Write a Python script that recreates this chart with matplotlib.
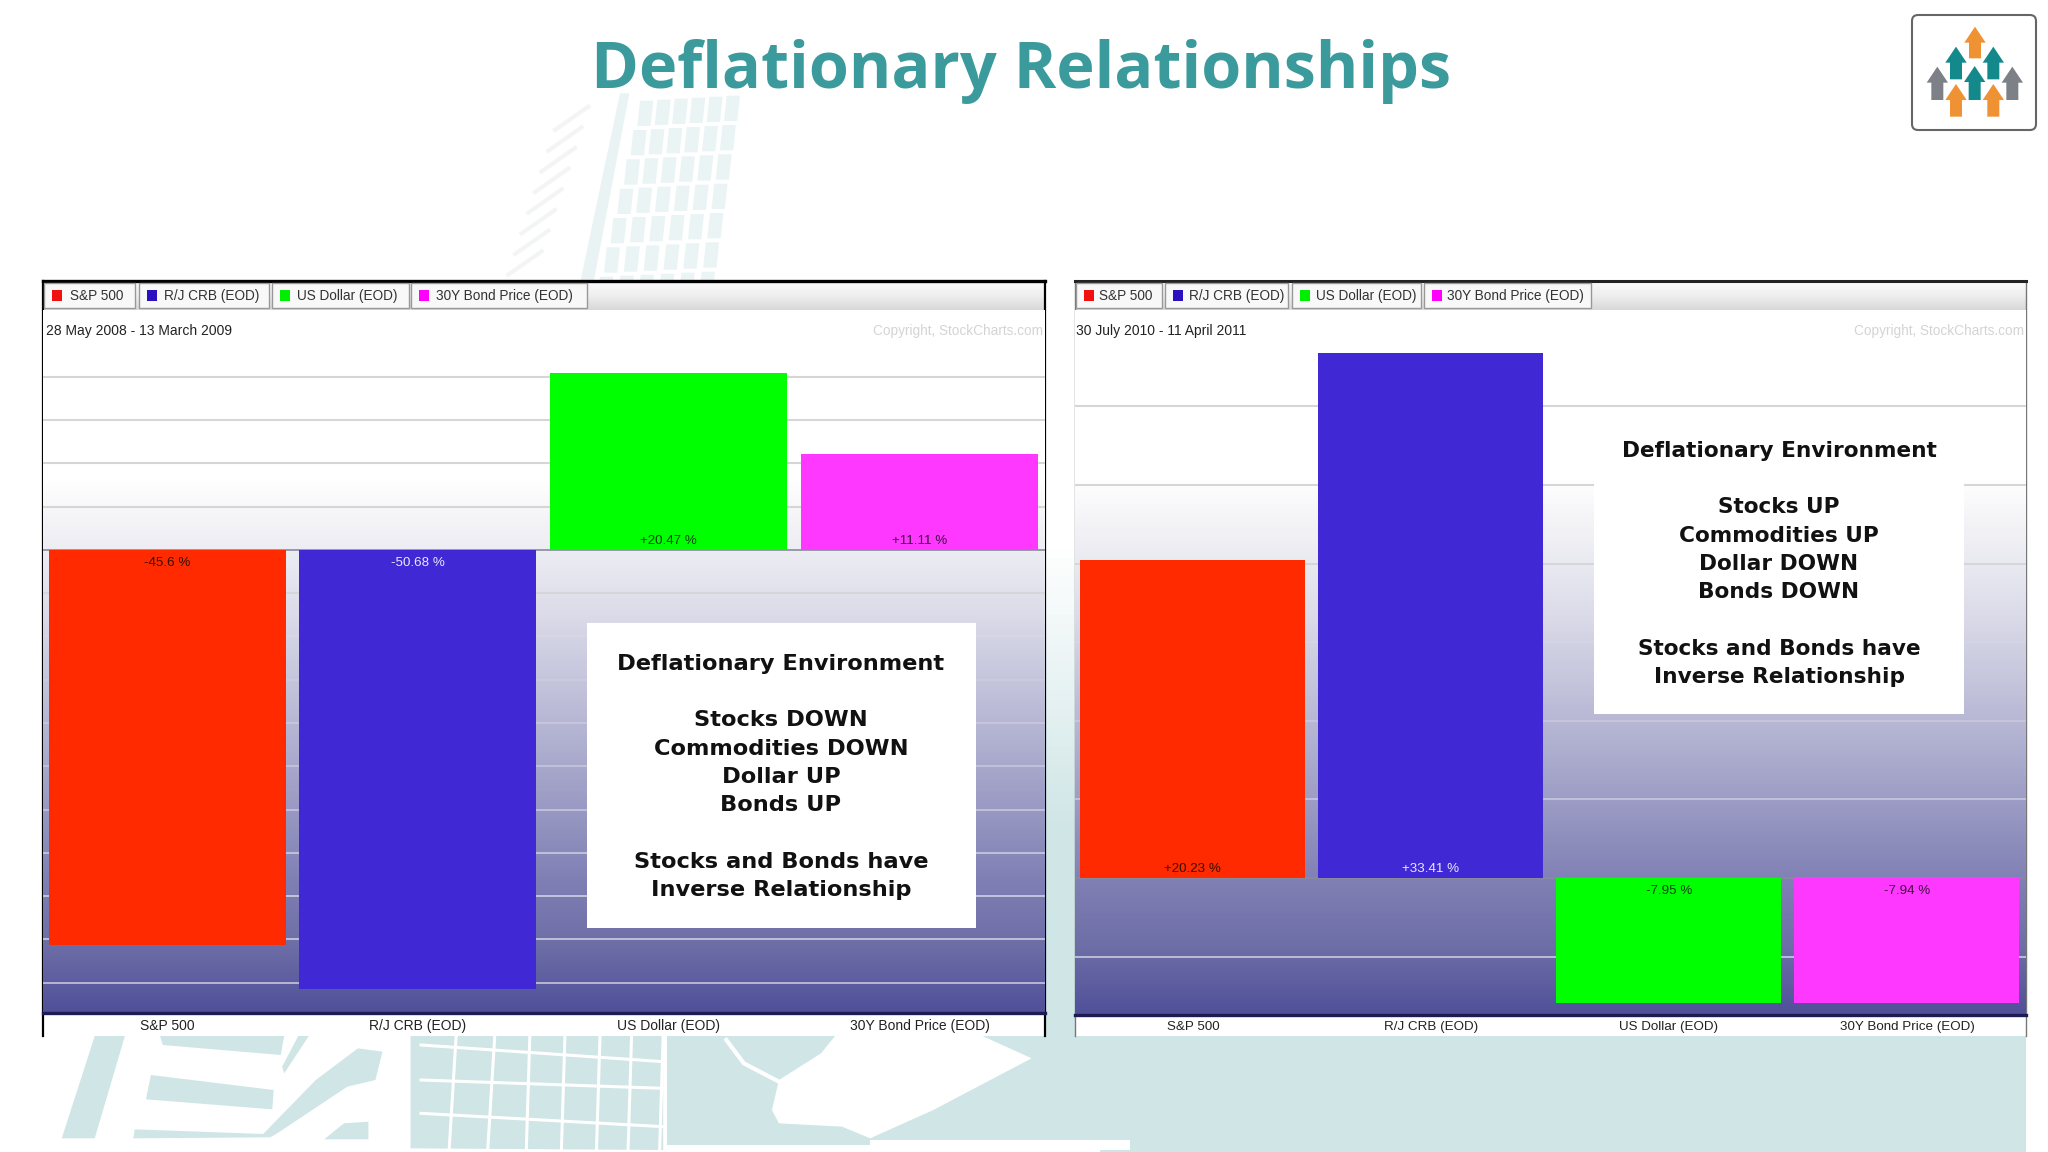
#!/usr/bin/env python3
"""Deflationary Relationships slide: two StockCharts style performance bar charts"""

import matplotlib
matplotlib.use('Agg')
import matplotlib.pyplot as plt
import numpy as np
from matplotlib.colors import LinearSegmentedColormap
from matplotlib.patches import FancyBboxPatch, Polygon, Rectangle

# data
categories = ['S&P 500', 'R/J CRB (EOD)', 'US Dollar (EOD)', '30Y Bond Price (EOD)']
values_2008 = [-45.6, -50.68, 20.47, 11.11]
labels_2008 = ['-45.6 %', '-50.68 %', '+20.47 %', '+11.11 %']
values_2010 = [20.23, 33.41, -7.95, -7.94]
labels_2010 = ['+20.23 %', '+33.41 %', '-7.95 %', '-7.94 %']
grid_2008 = [-50, -45, -40, -35, -30, -25, -20, -15, -10, -5, 5, 10, 15, 20]
grid_2010 = [-5, 5, 10, 15, 20, 25, 30]
box_2008 = ['Deflationary Environment', 'Stocks DOWN', 'Commodities DOWN', 'Dollar UP', 'Bonds UP',
            'Stocks and Bonds have', 'Inverse Relationship']
box_2010 = ['Deflationary Environment', 'Stocks UP', 'Commodities UP', 'Dollar DOWN', 'Bonds DOWN',
            'Stocks and Bonds have', 'Inverse Relationship']

bar_colors = ['#ff2a00', '#4028d4', '#00ff00', '#ff38ff']
swatch_colors = ['#f01010', '#2a10c0', '#00ee00', '#ff00ff']
label_colors = ['#301000', '#e8e8ff', '#104010', '#401040']
TEAL = '#cfe5e6'

W, H = 2048, 1152
fig = plt.figure(figsize=(W / 100, H / 100), dpi=100)

# slide layer, everything in pixels
bg = fig.add_axes([0, 0, 1, 1], zorder=0)
bg.axis('off')
fg = fig.add_axes([0, 0, 1, 1], zorder=3)
fg.axis('off')
fg.patch.set_alpha(0)

bg_cmap = LinearSegmentedColormap.from_list('bar', ['#fafafa', '#eeeeee', '#d8d8d8'])
bg.imshow(np.linspace(0, 1, 64).reshape(-1, 1), cmap=bg_cmap, extent=[43, 1045, 310, 282], aspect='auto', zorder=2)
bg.imshow(np.linspace(0, 1, 64).reshape(-1, 1), cmap=bg_cmap, extent=[1075, 2026, 310, 282], aspect='auto', zorder=2)

# bottom band watermark
zx = lambda x: x / 1.425
zy = lambda y: 1030 + y / 3
shapes = [
    [(135, 18), (178, 18), (135, 325), (88, 325)],
    [(228, 18), (405, 18), (400, 75), (232, 45)],
    [(215, 135), (390, 180), (388, 238), (208, 208)],
    [(425, 18), (440, 18), (405, 130), (402, 110)],
    [(510, 55), (545, 65), (535, 150), (495, 170), (395, 310), (385, 322), (190, 325), (192, 298), (375, 312), (450, 150)],
    [(490, 280), (525, 275), (525, 328), (462, 328)],
    [(585, 18), (945, 18), (945, 360), (585, 355)],
    [(950, 18), (1568, 18), (1568, 345), (950, 345)],
]
for s in shapes:
    bg.add_patch(Polygon([(zx(x), zy(y)) for x, y in s], fc=TEAL, ec='none', zorder=1))
bg.add_patch(Rectangle((1100, 1036), 926, 116, fc=TEAL, ec='none', zorder=1))
bg.add_patch(Polygon([(zx(x), zy(y)) for x, y in [(950, 345), (1240, 350), (1568, 352), (1568, 366), (950, 366)]],
                     fc='white', ec='none', zorder=1))
bg.add_patch(Rectangle((870, 1140), 260, 12, fc='white', ec='none', zorder=1))
bg.add_patch(Rectangle((1100, 1150), 926, 2, fc=TEAL, ec='none', zorder=1))
white_shape = [(1190, 18), (1170, 70), (1110, 150), (1100, 240), (1110, 280), (1200, 290), (1240, 325), (1330, 240),
               (1470, 85), (1400, 18)]
bg.add_patch(Polygon([(zx(x), zy(y)) for x, y in white_shape], fc='white', ec='none', zorder=1))
bg.plot([zx(1035), zx(1060), zx(1110)], [zy(30), zy(100), zy(155)], color='white', lw=3, zorder=1)
# window grid in the band
for x0, x1 in [(650, 640), (705, 695), (755, 750), (805, 800), (855, 850), (900, 895), (945, 940)]:
    bg.plot([zx(x0), zx(x1)], [zy(18), zy(360)], color='white', lw=2.2, zorder=1)
for y0, y1 in [(45, 95), (150, 175), (250, 290)]:
    bg.plot([zx(600), zx(945)], [zy(y0), zy(y1)], color='white', lw=2.2, zorder=1)

# strip between the two charts
bg.imshow(np.linspace(0, 1, 32).reshape(-1, 1), cmap=LinearSegmentedColormap.from_list('g', ['white', TEAL]),
          extent=[1045, 1075, 840, 540], aspect='auto', zorder=1)
bg.add_patch(Rectangle((1045, 840), 30, 196, fc=TEAL, ec='none', zorder=1))
for a in (bg, fg):
    a.set_xlim(0, W)
    a.set_ylim(H, 0)

# tower behind the title
wx = lambda x: 480 + x / 3
wy = lambda y: 80 + y / 3
bg.add_patch(Polygon([(wx(x), wy(y)) for x, y in [(420, 40), (448, 40), (340, 610), (300, 610)]],
                     fc='#e9f3f3', ec='none', zorder=1))
for row in range(7):
    for col in range(6):
        cx = 480 + col * 52 - row * 20 + row * col * 1.5
        cy = 100 + row * 88 - 3 * col
        bg.add_patch(Polygon([(wx(cx), wy(cy - 38)), (wx(cx + 40), wy(cy - 38)), (wx(cx + 32), wy(cy + 38)),
                              (wx(cx - 8), wy(cy + 38))], fc='#ebf4f4', ec='none', zorder=1))
for i in range(8):
    x0, y0 = 255 - i * 20, 100 + i * 62
    bg.plot([wx(x0 - 30), wx(x0 + 70)], [wy(y0 + 50), wy(y0 - 20)], color='#f3f5f4', lw=3, zorder=1)

# chart panels
bg.add_patch(Rectangle((43, 281), 1002, 755, fc='white', ec='none', zorder=1.5))
bg.add_patch(Rectangle((1075, 281), 951, 755, fc='white', ec='none', zorder=1.5))
bg.plot([43, 43], [281, 1036], color='black', lw=1.6, zorder=3)
bg.plot([1045, 1045], [281, 1036], color='black', lw=1.6, zorder=3)
bg.plot([43, 1045], [281, 281], color='black', lw=2.4, zorder=3)
bg.plot([1075, 1075], [281, 1036], color='#777777', lw=1, zorder=3)
bg.plot([2026, 2026], [281, 1036], color='#777777', lw=1, zorder=3)
bg.plot([1075, 2026], [281, 281], color='#222222', lw=2.2, zorder=3)

grad = LinearSegmentedColormap.from_list('chart', [
    (0, '#ffffff'), (0.24, '#ffffff'), (0.31, '#f2f2f6'), (0.41, '#e0e0ec'), (0.65, '#a8a8cc'),
    (0.81, '#8080b5'), (0.90, '#6f6fa8'), (1, '#50509a')])


def draw_chart(box, ylim, values, texts, grid):
    ax = fig.add_axes([box[0] / W, 1 - box[3] / H, (box[2] - box[0]) / W, (box[3] - box[1]) / H], zorder=2)
    ax.patch.set_alpha(0)
    x = np.arange(len(categories))
    ax.imshow(np.linspace(0, 1, 256).reshape(-1, 1), cmap=grad, aspect='auto',
              extent=[-0.495, 3.5, ylim[0], ylim[1]], zorder=0)
    for g in grid:
        frac = (ylim[1] - g) / (ylim[1] - ylim[0])
        if frac < 0.42:
            ax.axhline(g, color='#d6d6d8', lw=1.5, zorder=1)
        else:
            # fades out in the pale part of the gradient
            ax.axhline(g, color='white', alpha=min(0.6, max(0.08, (frac - 0.45) * 1.6)), lw=1.3, zorder=1)
    ax.axhline(0, color='#8a8aa0', lw=1.2, zorder=1)
    ax.bar(x, values, width=0.945, color=bar_colors, zorder=2)
    for i, (v, t) in enumerate(zip(values, texts)):
        ax.annotate(t, (i, 0), xytext=(0, 6.5 if v > 0 else -9.5), textcoords='offset points', ha='center', va='center',
                    fontsize=9.6, family='Liberation Sans', color=label_colors[i], zorder=3)
    ax.set_xlim(-0.495, 3.5)
    ax.set_ylim(*ylim)
    ax.set_xticks(x, categories, family='Liberation Sans', fontsize=box[4], color='#222222')
    ax.set_yticks([])
    ax.tick_params(axis='x', length=0, pad=4)
    for name in ('left', 'right', 'top'):
        ax.spines[name].set_visible(False)
    ax.spines['bottom'].set_color('#1c1c50')
    ax.spines['bottom'].set_linewidth(2.4)
    return ax


draw_chart((43, 310, 1045, 1013, 10), (-53.5, 27.7), values_2008, labels_2008, grid_2008)
draw_chart((1075, 310, 2026, 1015, 9.6), (-8.71, 36.13), values_2010, labels_2010, grid_2010)


def draw_tabs(tab_edges, text_x, date_text, date_x, copy_x):
    for (x0, x1), tx, name, c in zip(tab_edges, text_x, categories, swatch_colors):
        bg.add_patch(Rectangle((x0, 283), x1 - x0, 25, fc='#f8f8f8', ec='#999999', lw=1, zorder=3))
        bg.add_patch(Rectangle((x0 + 8, 290), 10, 11, fc=c, ec='none', zorder=4))
        bg.text(tx, 296, name, fontsize=9.8, family='Liberation Sans', color='#333333', va='center', zorder=4)
    # over the chart gradient, so on the top layer
    fg.text(date_x, 331, date_text, fontsize=10, family='Liberation Sans', color='#222222', va='center')
    fg.text(copy_x, 331, 'Copyright, StockCharts.com', fontsize=9.8, family='Liberation Sans', color='#d4d4d4',
            ha='right', va='center')


draw_tabs([(44, 135), (139, 269), (272, 409), (411, 587)], [70, 164, 297, 436], '28 May 2008 - 13 March 2009', 46, 1043)
draw_tabs([(1076, 1162), (1165, 1288), (1292, 1421), (1424, 1591)], [1099, 1189, 1316, 1447],
          '30 July 2010 - 11 April 2011', 1076, 2024)

# callout boxes
line_offsets = [0, 56, 85, 113, 141, 198, 226]


def draw_box(x0, y0, x1, y1, cx, top, lines, size):
    fg.add_patch(Rectangle((x0, y0), x1 - x0, y1 - y0, fc='white', ec='none'))
    for off, line in zip(line_offsets, lines):
        fg.text(cx, top + off, line, fontsize=size, fontweight='bold', family='DejaVu Sans', color='#111111',
                ha='center', va='center')


draw_box(587, 623, 976, 928, 781, 664, box_2008, 16.2)
draw_box(1594, 418, 1964, 714, 1779, 451, box_2010, 15.6)

# title
fg.text(1021, 72, 'Deflationary Relationships', fontsize=46.6, fontweight='bold', family='Open Sans', color='#3b9a9c',
        ha='center', va='center')

# logo
fg.add_patch(FancyBboxPatch((1912, 15), 124, 115, boxstyle='round,pad=0,rounding_size=6', fc='white', ec='#666666', lw=1.5))
arrows = [(285, 80, 175, '#ee9233'), (228, 140, 238, '#14898c'), (340, 140, 238, '#14898c'), (284, 198, 300, '#14898c'),
          (172, 200, 300, '#7d8086'), (397, 200, 300, '#7d8086'), (228, 252, 350, '#ee9233'), (340, 252, 350, '#ee9233')]
for x, top, bot, c in arrows:
    pts = [(x, top), (x + 32, top + 48), (x + 18, top + 48), (x + 18, bot), (x - 18, bot), (x - 18, top + 48), (x - 32, top + 48)]
    fg.add_patch(Polygon([(1880 + px / 3, py / 3) for px, py in pts], fc=c, ec='none'))

fig.savefig('out.png', dpi=100)
